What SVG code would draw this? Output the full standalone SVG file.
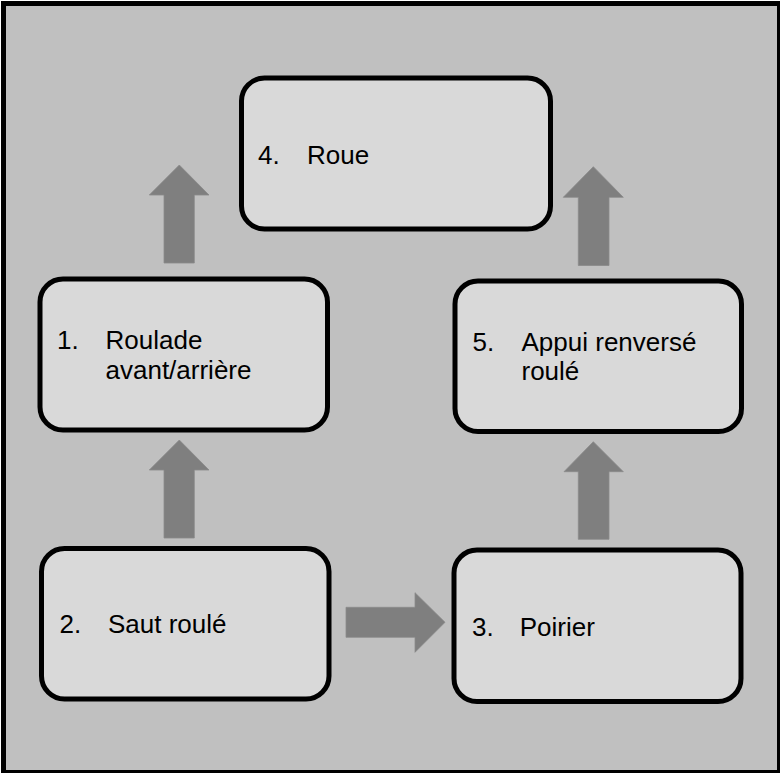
<svg xmlns="http://www.w3.org/2000/svg" width="780" height="773" viewBox="0 0 780 773">
<style>
.box{fill:#d9d9d9;stroke:#000;stroke-width:5}
.arr{fill:#7f7f7f;stroke:#8a8a8a;stroke-width:0.8}
text{font-family:"Liberation Sans",Arial,sans-serif;font-size:26px;fill:#000}
</style>
<rect x="3.5" y="3.5" width="776" height="769" fill="#c0c0c0" stroke="#000" stroke-width="5"/>
<g id="connectors">
<polygon class="arr" points="164,263 164,195 149.3,195 179.3,165 209,195 194.3,195 194.3,263"/>
<polygon class="arr" points="164,538 164,470 149.3,470 179.3,440 209,470 194.3,470 194.3,538"/>
<polygon class="arr" points="578.3,265.5 578.3,197.3 563.3,197.3 593.3,166.7 623.3,197.3 609,197.3 609,265.5"/>
<polygon class="arr" points="578.3,539.3 578.3,471.7 564,471.7 593.3,441.7 623.3,471.7 609,471.7 609,539.3"/>
<polygon class="arr" points="346,607.3 415,607.3 415,592.7 445,622.3 415,652.3 415,637.3 346,637.3"/>
</g>
<g id="n4">
<rect class="box" x="241.5" y="78" width="309" height="151" rx="23"/>
<text x="258" y="164">4.</text><text x="307" y="164">Roue</text>
</g>
<g id="n1">
<rect class="box" x="40" y="279" width="287.5" height="151" rx="23"/>
<text x="57" y="349">1.</text><text x="105.5" y="349">Roulade</text>
<text x="105.5" y="379">avant/arrière</text>
</g>
<g id="n5">
<rect class="box" x="455" y="281" width="286.5" height="150.5" rx="23"/>
<text x="472.5" y="350.5">5.</text><text x="521.5" y="350.5">Appui renversé</text>
<text x="521.5" y="380">roulé</text>
</g>
<g id="n2">
<rect class="box" x="41.5" y="548.5" width="287.5" height="150.5" rx="23"/>
<text x="59.5" y="633.3">2.</text><text x="108" y="633.3">Saut roulé</text>
</g>
<g id="n3">
<rect class="box" x="454" y="550" width="287" height="151.5" rx="23"/>
<text x="472" y="635.7">3.</text><text x="519.7" y="635.7">Poirier</text>
</g>
</svg>
